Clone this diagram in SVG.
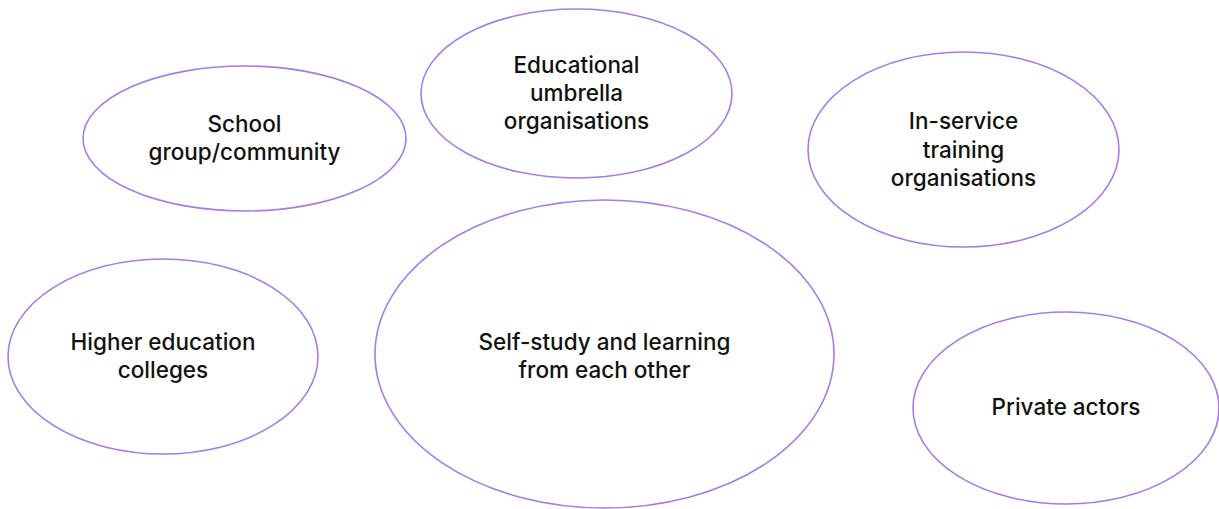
<svg xmlns="http://www.w3.org/2000/svg" width="1219" height="509" viewBox="0 0 1219 509">
<style>
.n{fill:#fff;stroke:#a87ce0;stroke-width:1.6}
.t{font-family:Inter,"Noto Sans",sans-serif;font-size:22.5px;font-weight:500;fill:#111;text-anchor:middle}
</style>
<rect width="1219" height="509" fill="#fff"/>
<g id="connectors"></g>
<g id="school"><ellipse class="n" cx="244.5" cy="138.5" rx="161.5" ry="72.5"/><text class="t" x="244.5" y="132">School</text><text class="t" x="244.5" y="160">group/community</text></g>
<g id="umbrella"><ellipse class="n" cx="576.5" cy="93.5" rx="155.5" ry="84.5"/><text class="t" x="576.5" y="73">Educational</text><text class="t" x="576.5" y="101">umbrella</text><text class="t" x="576.5" y="129">organisations</text></g>
<g id="inservice"><ellipse class="n" cx="963.5" cy="149.5" rx="155.5" ry="97.5"/><text class="t" x="963.5" y="129">In-service</text><text class="t" x="963.5" y="158">training</text><text class="t" x="963.5" y="186">organisations</text></g>
<g id="higher"><ellipse class="n" cx="163" cy="356.5" rx="155" ry="97.5"/><text class="t" x="163" y="350">Higher education</text><text class="t" x="163" y="378">colleges</text></g>
<g id="selfstudy"><ellipse class="n" cx="604.5" cy="354" rx="229.5" ry="154"/><text class="t" x="604.5" y="350">Self-study and learning</text><text class="t" x="604.5" y="378">from each other</text></g>
<g id="private"><ellipse class="n" cx="1066" cy="408" rx="153" ry="96"/><text class="t" x="1066" y="415">Private actors</text></g>
</svg>
